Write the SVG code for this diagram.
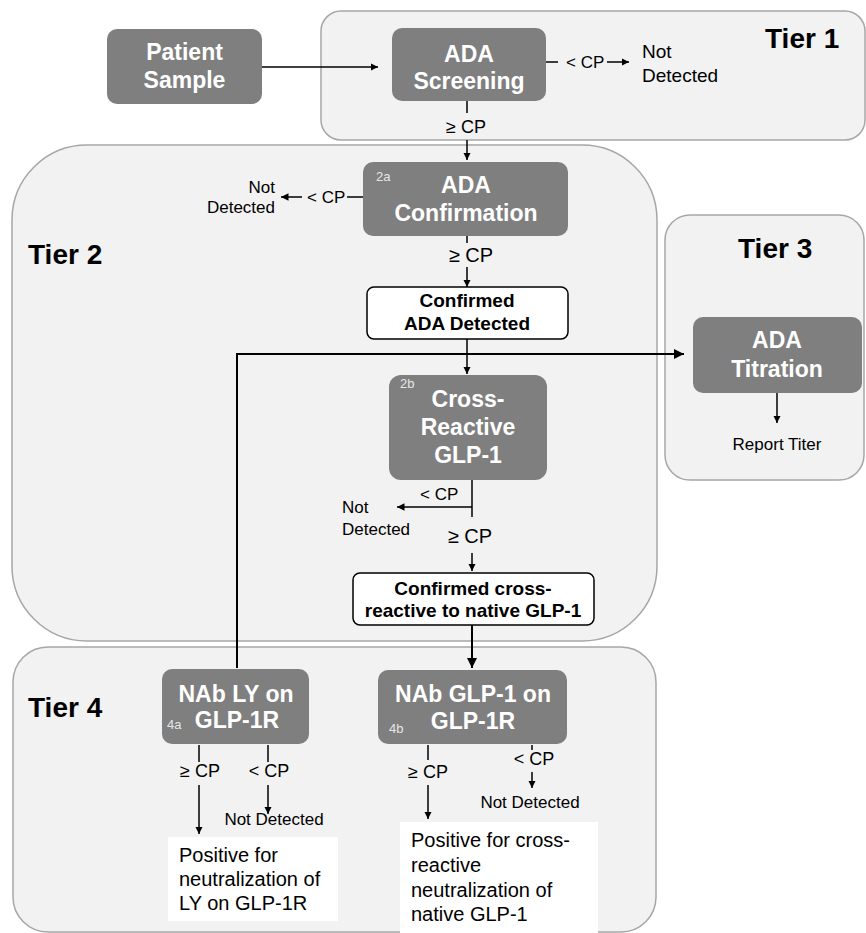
<svg xmlns="http://www.w3.org/2000/svg" width="866" height="933" viewBox="0 0 866 933">
<style>
.tier{fill:#f2f2f2;stroke:#a6a6a6;stroke-width:1.5}
.node{fill:#7f7f7f}
.res{fill:#ffffff;stroke:#000;stroke-width:1.5}
.out{fill:#ffffff}
.nt{font-family:"Liberation Sans",Arial,sans-serif;font-weight:bold;font-size:23px;fill:#fff;text-anchor:middle}
.tt{font-family:"Liberation Sans",Arial,sans-serif;font-weight:bold;font-size:28px;fill:#000}
.rt{font-family:"Liberation Sans",Arial,sans-serif;font-weight:bold;font-size:19px;fill:#000;text-anchor:middle}
.lb{font-family:"Liberation Sans",Arial,sans-serif;font-size:18px;fill:#000}
.sm{font-family:"Liberation Sans",Arial,sans-serif;font-size:17px;fill:#000}
.ot{font-family:"Liberation Sans",Arial,sans-serif;font-size:20px;fill:#000}
.tag{font-family:"Liberation Sans",Arial,sans-serif;font-size:13px;fill:#e6e6e6}
.c{stroke:#000;stroke-width:1.5;fill:none}
.ca{stroke:#000;stroke-width:1.5;fill:none;marker-end:url(#ah)}
.cb{stroke:#000;stroke-width:2;fill:none;marker-end:url(#ah)}
</style>
<defs>
<marker id="ah" viewBox="0 0 10 10" refX="10" refY="5" markerWidth="5" markerHeight="5" markerUnits="strokeWidth" orient="auto">
<path d="M0,0 L10,5 L0,10 z" fill="#000"/>
</marker>
</defs>

<g id="tier1">
<rect class="tier" x="321" y="11" width="544" height="129" rx="20"/>
<text class="tt" x="765" y="48">Tier 1</text>
</g>
<g id="tier2">
<rect class="tier" x="12" y="145" width="645" height="496" rx="75"/>
<text class="tt" x="28" y="264">Tier 2</text>
</g>
<g id="tier3">
<rect class="tier" x="665" y="215" width="199" height="265" rx="25"/>
<text class="tt" x="738" y="258">Tier 3</text>
</g>
<g id="tier4">
<rect class="tier" x="13" y="647" width="643" height="285" rx="35"/>
<text class="tt" x="28" y="717">Tier 4</text>
</g>

<g id="connectors">
<line class="ca" x1="262" y1="67" x2="378" y2="67"/>
<line class="c" x1="546" y1="62" x2="558" y2="62"/>
<text class="sm" x="566" y="68">&lt; CP</text>
<line class="ca" x1="607" y1="62" x2="629" y2="62"/>
<line class="c" x1="467" y1="101" x2="467" y2="113"/>
<text class="lb" x="466" y="133" text-anchor="middle">≥ CP</text>
<line class="ca" x1="467" y1="140" x2="467" y2="160"/>

<line class="c" x1="363" y1="197" x2="347" y2="197"/>
<text class="sm" x="307" y="203">&lt; CP</text>
<line class="ca" x1="302" y1="197" x2="281" y2="197"/>
<line class="c" x1="467" y1="236" x2="467" y2="243"/>
<text class="ot" x="471" y="262" text-anchor="middle">≥ CP</text>
<line class="ca" x1="467" y1="267" x2="467" y2="287"/>

<line class="ca" x1="467" y1="339" x2="467" y2="374"/>
<polyline class="cb" points="237,668 237,354 684,354"/>

<line class="c" x1="472" y1="480" x2="472" y2="517"/>
<line class="ca" x1="472" y1="507" x2="397" y2="507"/>
<text class="sm" x="420" y="500">&lt; CP</text>
<text class="ot" x="470" y="543" text-anchor="middle">≥ CP</text>
<line class="ca" x1="472" y1="553" x2="472" y2="571"/>
<line class="cb" x1="472" y1="625" x2="472" y2="668"/>

<line class="ca" x1="777" y1="393" x2="777" y2="423"/>

<line class="c" x1="199" y1="745" x2="199" y2="762"/>
<text class="lb" x="200" y="777" text-anchor="middle">≥ CP</text>
<line class="ca" x1="199" y1="785" x2="199" y2="834"/>
<line class="c" x1="268" y1="745" x2="268" y2="762"/>
<text class="lb" x="269" y="777" text-anchor="middle">&lt; CP</text>
<line class="ca" x1="268" y1="785" x2="268" y2="814"/>

<line class="c" x1="428" y1="745" x2="428" y2="760"/>
<text class="lb" x="428" y="778" text-anchor="middle">≥ CP</text>
<line class="ca" x1="428" y1="785" x2="428" y2="819"/>
<line class="c" x1="532" y1="745" x2="532" y2="750"/>
<text class="lb" x="534" y="765" text-anchor="middle">&lt; CP</text>
<line class="ca" x1="532" y1="772" x2="532" y2="788"/>
</g>

<g id="patient-sample">
<rect class="node" x="107" y="29" width="155" height="75" rx="10"/>
<text class="nt" x="184.5" y="60">Patient</text>
<text class="nt" x="184.5" y="88">Sample</text>
</g>
<g id="ada-screening">
<rect class="node" x="392" y="28" width="154" height="73" rx="10"/>
<text class="nt" x="469" y="62">ADA</text>
<text class="nt" x="469" y="89">Screening</text>
</g>
<g id="nd1">
<text class="ot" x="642" y="58" style="font-size:19px">Not</text>
<text class="ot" x="642" y="82" style="font-size:19px">Detected</text>
</g>
<g id="ada-confirmation">
<rect class="node" x="363" y="162" width="205" height="74" rx="10"/>
<text class="tag" x="376" y="181">2a</text>
<text class="nt" x="466" y="193">ADA</text>
<text class="nt" x="466" y="221">Confirmation</text>
</g>
<g id="nd2">
<text class="sm" x="275" y="193" text-anchor="end">Not</text>
<text class="sm" x="275" y="213" text-anchor="end">Detected</text>
</g>
<g id="confirmed-ada">
<rect class="res" x="367" y="287" width="201" height="52" rx="7"/>
<text class="rt" x="467" y="307">Confirmed</text>
<text class="rt" x="467" y="330">ADA Detected</text>
</g>
<g id="cross-reactive">
<rect class="node" x="389" y="375" width="158" height="105" rx="12"/>
<text class="tag" x="400" y="388">2b</text>
<text class="nt" x="468" y="407">Cross-</text>
<text class="nt" x="468" y="435">Reactive</text>
<text class="nt" x="468" y="463">GLP-1</text>
</g>
<g id="nd3">
<text class="sm" x="342" y="513">Not</text>
<text class="sm" x="342" y="535">Detected</text>
</g>
<g id="confirmed-cross">
<rect class="res" x="353" y="573" width="241" height="52" rx="7"/>
<text class="rt" x="473" y="595">Confirmed cross-</text>
<text class="rt" x="473" y="617">reactive to native GLP-1</text>
</g>
<g id="ada-titration">
<rect class="node" x="693" y="317" width="169" height="76" rx="10"/>
<text class="nt" x="777" y="348">ADA</text>
<text class="nt" x="777" y="377">Titration</text>
</g>
<g id="report-titer">
<text class="sm" x="777" y="450" text-anchor="middle">Report Titer</text>
</g>
<g id="nab-ly">
<rect class="node" x="162" y="669" width="147" height="75" rx="10"/>
<text class="nt" x="236" y="702">NAb LY on</text>
<text class="nt" x="237" y="728">GLP-1R</text>
<text class="tag" x="167" y="729">4a</text>
</g>
<g id="nd4">
<text class="sm" x="274" y="825" text-anchor="middle">Not Detected</text>
</g>
<g id="pos-ly">
<rect class="out" x="168" y="837" width="170" height="84"/>
<text class="ot" x="179" y="862">Positive for</text>
<text class="ot" x="179" y="886">neutralization of</text>
<text class="ot" x="179" y="910">LY on GLP-1R</text>
</g>
<g id="nab-glp1">
<rect class="node" x="378" y="670" width="189" height="74" rx="10"/>
<text class="nt" x="473" y="702">NAb GLP-1 on</text>
<text class="nt" x="473" y="729">GLP-1R</text>
<text class="tag" x="389" y="733">4b</text>
</g>
<g id="nd5">
<text class="sm" x="530" y="808" text-anchor="middle">Not Detected</text>
</g>
<g id="pos-glp1">
<rect class="out" x="400" y="822" width="198" height="111"/>
<text class="ot" x="411" y="847">Positive for cross-</text>
<text class="ot" x="411" y="872">reactive</text>
<text class="ot" x="411" y="897">neutralization of</text>
<text class="ot" x="411" y="921">native GLP-1</text>
</g>
</svg>
